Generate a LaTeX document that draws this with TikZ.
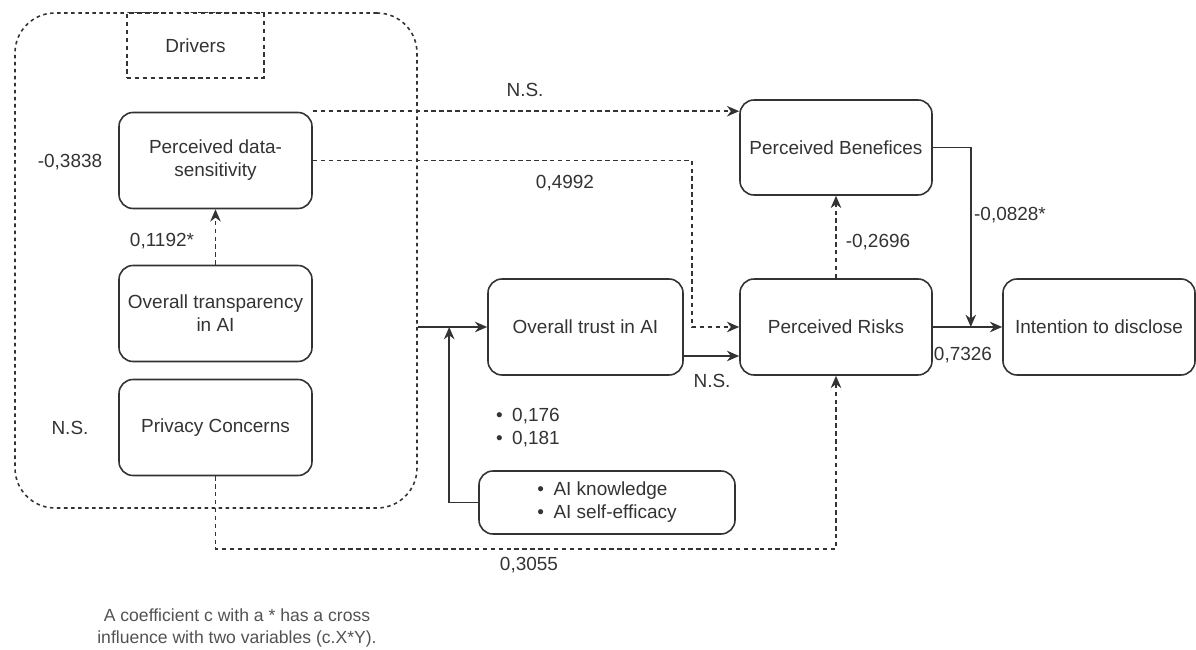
\documentclass[tikz,border=0pt]{standalone}
\usepackage{fontspec}
\setmainfont{Liberation Sans}
\usepackage{tikz}
\usetikzlibrary{shapes, arrows, calc, positioning}
\usetikzlibrary{arrows.meta}
\definecolor{inkgray}{HTML}{333333}

\begin{document}
\begin{tikzpicture}[
  every node/.style={font=\fontsize{10.8}{13}\selectfont, align=center, text=inkgray},
  construct/.style={rectangle, draw=inkgray, line width=0.9pt, rounded corners=0.28cm, minimum width=3.86cm, minimum height=1.92cm, inner sep=2pt},
  drivergroup/.style={rectangle, draw=inkgray, line width=0.9pt, rounded corners=0.8cm, dash pattern=on 2pt off 2pt},
  solidlink/.style={draw=inkgray, line width=0.9pt, -{Stealth[length=7pt, width=6pt]}},
  dashedlink/.style={solidlink, dash pattern=on 2.5pt off 2pt},
  coef/.style={inner sep=1pt},
  footnote/.style={font=\fontsize{10}{13}\selectfont, text=inkgray!85}
]
\useasboundingbox (0,0) rectangle (23.92,-13);

\node[drivergroup, minimum width=8.04cm, minimum height=9.9cm] (grp) at (4.32,-5.21) {};
\node[drivergroup, rounded corners=0pt, dash pattern=on 2.5pt off 2pt, minimum width=2.74cm, minimum height=1.3cm, fill=white] (drivers) at (3.91,-0.91) {Drivers};

\node[construct] (pds) at (4.31,-3.21) {Perceived data-\\sensitivity};
\node[construct] (ota) at (4.31,-6.27) {Overall transparency\\in AI};
\node[construct] (pc) at (4.31,-8.55) {Privacy Concerns};
\node[construct, minimum width=3.9cm] (trust) at (11.71,-6.54) {Overall trust in AI};
\node[construct, minimum width=3.84cm] (pr) at (16.72,-6.54) {Perceived Risks};
\node[construct, minimum width=3.84cm, minimum height=1.9cm] (pb) at (16.72,-2.95) {Perceived Benefices};
\node[construct, minimum width=3.84cm] (itd) at (21.98,-6.54) {Intention to disclose};
\node[construct, minimum width=5.12cm, minimum height=1.26cm, align=left] (aik) at (12.14,-10.05) {\textbullet\enspace AI knowledge\\\textbullet\enspace AI self-efficacy};

\coordinate (pbin) at ([yshift=-0.24cm]pb.north west);
\coordinate (merge) at ([xshift=0.76cm]pr.east);
\coordinate (low) at (0,-10.98);

\draw[dashedlink] (ota.north) -- (pds.south);
\draw[dashedlink] (pds.east |- pbin) -- (pbin);
\draw[dashedlink] (pds.east) -| ([xshift=-0.94cm]pr.west) -- (pr.west);
\draw[solidlink] (grp.east |- trust.west) -- (trust.west);
\draw[solidlink] (aik.west) -| ([xshift=-0.76cm]trust.west);
\draw[solidlink] ([yshift=-0.58cm]trust.east) -- ([yshift=-0.58cm]pr.west);
\draw[dashedlink] (pr.north) -- (pb.south);
\draw[solidlink] (pr.east) -- (itd.west);
\draw[solidlink] (pb.east) -| (merge);
\draw[dashedlink] (pc.south) -- (pc.south |- low) -| (pr.south);

\node[coef] (c1) at (1.40,-3.24) {-0,3838};
\node[coef] (c2) at (3.24,-4.82) {0,1192*};
\node[coef] (c3) at (1.40,-8.56) {N.S.};
\node[coef] (c4) at (10.50,-1.80) {N.S.};
\node[coef] (c5) at (11.30,-3.66) {0,4992};
\node[coef, anchor=west, align=left] (c6) at (9.88,-8.56) {\textbullet\enspace 0,176\\\textbullet\enspace 0,181};
\node[coef] (c7) at (14.24,-7.62) {N.S.};
\node[coef] (c8) at (17.56,-4.84) {-0,2696};
\node[coef] (c9) at (20.20,-4.30) {-0,0828*};
\node[coef] (c10) at (19.26,-7.10) {0,7326};
\node[coef] (c11) at (10.58,-11.30) {0,3055};

\node[footnote] (note) at (4.74,-12.56) {A coefficient c with a * has a cross\\influence with two variables (c.X*Y).};

\end{tikzpicture}
\end{document}
